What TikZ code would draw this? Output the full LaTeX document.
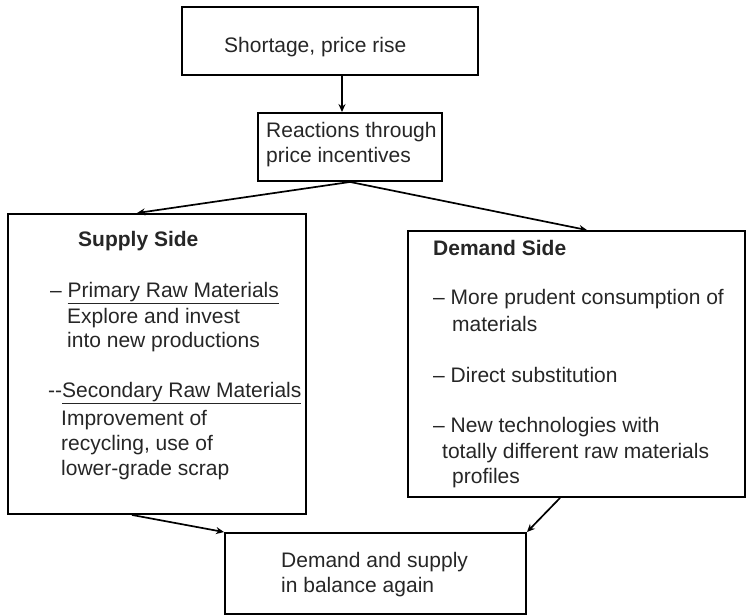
\documentclass[tikz,border=0pt]{standalone}
\usepackage{fontspec}
\setmainfont{Liberation Sans}
\usetikzlibrary{arrows.meta}
\begin{document}
\begin{tikzpicture}[x=1pt,y=-1pt,
  box/.style={draw, line width=1.9pt, inner sep=0pt},
  txt/.style={anchor=west, inner sep=0pt, text=black!85, font=\fontsize{21}{25}\selectfont},
  btxt/.style={txt, font=\fontsize{21}{25}\selectfont\bfseries},
  arr/.style={line width=1.7pt, -{Stealth[length=8pt,width=7pt]}}]
\useasboundingbox (0,0) rectangle (750,616);
% boxes
\node[box, minimum width=296pt, minimum height=68pt] (top) at (330,41) {};
\node[box, minimum width=184pt, minimum height=68pt] (rea) at (350,147) {};
\node[box, minimum width=298pt, minimum height=300pt] (sup) at (157,364) {};
\node[box, minimum width=337pt, minimum height=266pt] (dem) at (576.5,364) {};
\node[box, minimum width=301pt, minimum height=81pt] (bal) at (375.5,573.5) {};
% texts
\node[txt] (t1) at (224,47) {Shortage, price rise};
\node[txt] (r1) at (266,132) {Reactions through};
\node[txt] (r2) at (266,157) {price incentives};
\node[btxt] (s0) at (78,241) {Supply Side};
\node[txt] (s1) at (50,293) {– \underline{Primary Raw Materials}};
\node[txt] (s2) at (67,318) {Explore and invest};
\node[txt] (s3) at (67,342) {into new productions};
\node[txt] (s4) at (48,393) {{-}{-}\underline{Secondary Raw Materials}};
\node[txt] (s5) at (61,420) {Improvement of};
\node[txt] (s6) at (61,445) {recycling, use of};
\node[txt] (s7) at (61,470) {lower-grade scrap};
\node[btxt] (d0) at (433,248) {Demand Side};
\node[txt] (d1) at (433,299) {– More prudent consumption of};
\node[txt] (d2) at (452,324) {materials};
\node[txt] (d3) at (433,375) {– Direct substitution};
\node[txt] (d4) at (433,427) {– New technologies with};
\node[txt] (d5) at (442,453) {totally different raw materials};
\node[txt] (d6) at (452,478) {profiles};
\node[txt] (b1) at (281,562) {Demand and supply};
\node[txt] (b2) at (281,587) {in balance again};
% connectors
\draw[arr] ([xshift=12pt]top.south) -- ([xshift=-8pt]rea.north);
\draw[arr] (rea.south) -- ([xshift=-20pt]sup.north);
\draw[arr] (rea.south) -- ([xshift=10.5pt]dem.north);
\draw[arr] ([xshift=-25pt]sup.south) -- (bal.north west);
\draw[arr] ([xshift=-16.5pt]dem.south) -- (bal.north east);
\end{tikzpicture}
\end{document}
